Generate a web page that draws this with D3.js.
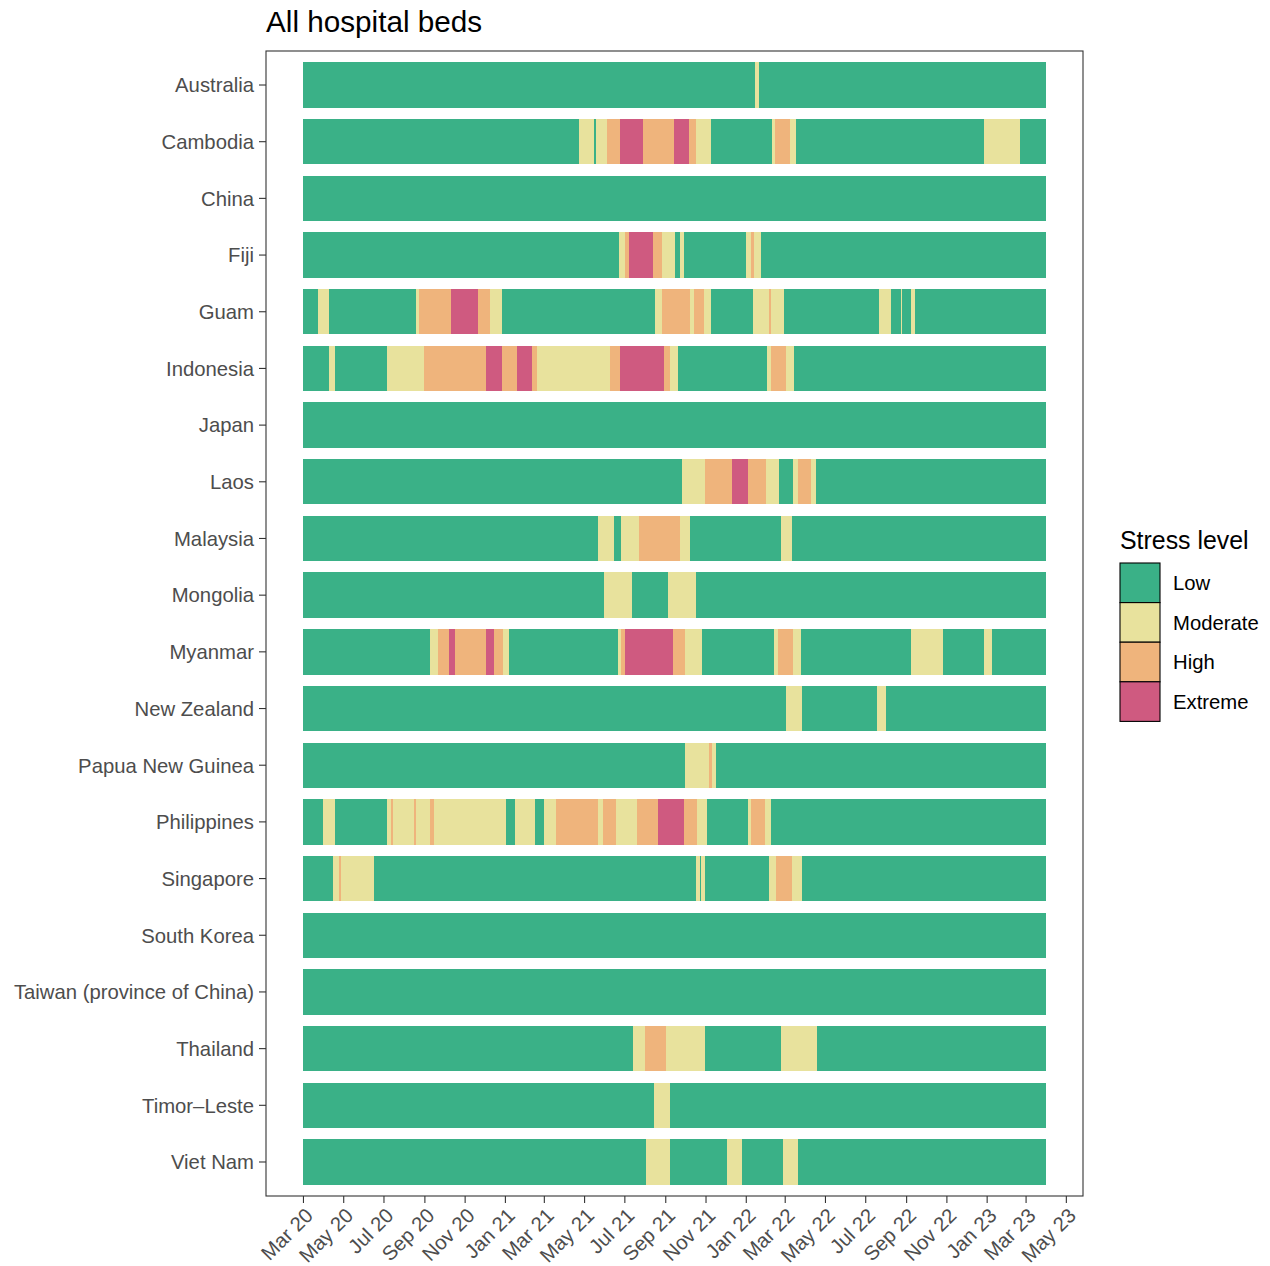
<!DOCTYPE html>
<html>
<head>
<meta charset="utf-8">
<script src="https://cdn.jsdelivr.net/npm/d3@7"></script>
<style>
  body { margin: 0; background: #fff; }
  svg { font-family: "Liberation Sans", Arial, sans-serif; }
</style>
</head>
<body>
<svg width="1270" height="1266"></svg>
<script>
// stress levels and their colours
const levels = ["Low", "Moderate", "High", "Extreme"]
const levelColors = ["#3AB187", "#E8E29D", "#EFB47C", "#CF5A80"]

// each country: [day since 2020-03-01 when the level starts, level index]
const countries = ["Australia", "Cambodia", "China", "Fiji", "Guam", "Indonesia", "Japan", "Laos",
  "Malaysia", "Mongolia", "Myanmar", "New Zealand", "Papua New Guinea", "Philippines", "Singapore",
  "South Korea", "Taiwan (province of China)", "Thailand", "Timor\u2013Leste", "Viet Nam"]

const australia = [[0,0],[685,1],[691,0]]
const cambodia = [[0,0],[419,1],[441,0],[444,1],[460,2],[480,3],[515,2],[562,3],[585,2],[595,1],[618,0],[711,1],[715,2],[738,1],[747,0],[1032,1],[1087,0]]
const china = [[0,0]]
const fiji = [[0,0],[479,1],[488,2],[494,3],[530,2],[544,1],[563,0],[571,1],[577,0],[671,1],[679,2],[683,1],[694,0]]
const guam = [[0,0],[23,1],[40,0],[172,1],[176,2],[224,3],[265,2],[284,1],[302,0],[533,1],[544,2],[586,1],[592,2],[608,1],[618,0],[682,1],[706,2],[709,1],[729,0],[873,1],[891,0],[906,1],[908,0],[921,1],[927,0]]
const indonesia = [[0,0],[40,1],[48,0],[128,1],[184,2],[277,3],[301,2],[325,3],[347,2],[354,1],[466,2],[480,3],[547,2],[556,1],[568,0],[703,1],[709,2],[732,1],[744,0]]
const japan = [[0,0]]
const laos = [[0,0],[574,1],[609,2],[650,3],[674,2],[702,1],[721,0],[742,1],[750,2],[770,1],[777,0]]
const malaysia = [[0,0],[447,1],[471,0],[482,1],[509,2],[571,1],[586,0],[724,1],[741,0]]
const mongolia = [[0,0],[456,1],[498,0],[553,1],[595,0]]
const myanmar = [[0,0],[193,1],[204,2],[222,3],[230,2],[277,3],[290,2],[303,1],[312,0],[477,1],[482,2],[488,3],[560,2],[579,1],[604,0],[714,1],[720,2],[742,1],[755,0],[921,1],[970,0],[1032,1],[1044,0]]
const newZealand = [[0,0],[732,1],[756,0],[870,1],[884,0]]
const papuaNewGuinea = [[0,0],[579,1],[615,2],[620,1],[626,0]]
const philippines = [[0,0],[30,1],[48,0],[127,1],[134,2],[136,1],[168,2],[171,1],[192,2],[199,1],[307,0],[322,1],[351,0],[366,1],[383,2],[447,1],[454,2],[474,1],[506,2],[538,3],[577,2],[597,1],[612,0],[674,1],[679,2],[700,1],[709,0]]
const singapore = [[0,0],[46,1],[54,2],[57,1],[107,0],[595,1],[601,0],[603,1],[609,0],[706,1],[717,2],[741,1],[756,0]]
const southKorea = [[0,0]]
const taiwan = [[0,0]]
const thailand = [[0,0],[500,1],[518,2],[550,1],[609,0],[724,1],[779,0]]
const timorLeste = [[0,0],[532,1],[556,0]]
const vietNam = [[0,0],[520,1],[556,0],[642,1],[665,0],[727,1],[750,0]]

const series = [australia, cambodia, china, fiji, guam, indonesia, japan, laos, malaysia, mongolia,
  myanmar, newZealand, papuaNewGuinea, philippines, singapore, southKorea, taiwan, thailand, timorLeste, vietNam]

const startDate = new Date(2020, 2, 1)
const lastDay = 1126 // data runs to 2023-04-01

const svg = d3.select("svg")

// panel box
const panelLeft = 266, panelRight = 1083, panelTop = 51, panelBottom = 1196

const day = (n) => d3.timeDay.offset(startDate, n)
const pad = Math.round(lastDay * 0.05)

const scaleX = d3.scaleTime()
  .domain([day(-pad), day(lastDay + pad)])
  .range([panelLeft, panelRight])

const scaleY = d3.scaleBand()
  .domain(countries)
  .range([panelTop, panelBottom])
  .paddingInner(0.2)
  .paddingOuter(0.2)

// turn change points into segments
const segments = []
series.forEach((s, i) => {
  s.forEach((p, j) => {
    const end = j < s.length - 1 ? s[j + 1][0] : lastDay
    segments.push({ country: countries[i], from: p[0], to: end, level: p[1] })
  })
})

svg.append("g")
  .selectAll("rect")
  .data(segments)
  .enter()
  .append("rect")
  .attr("x", d => scaleX(day(d.from)))
  .attr("width", d => scaleX(day(d.to)) - scaleX(day(d.from)))
  .attr("y", d => scaleY(d.country))
  .attr("height", scaleY.bandwidth())
  .attr("fill", d => levelColors[d.level])
  .attr("shape-rendering", "crispEdges")

// panel border
svg.append("rect")
  .attr("x", panelLeft).attr("y", panelTop)
  .attr("width", panelRight - panelLeft).attr("height", panelBottom - panelTop)
  .attr("fill", "none")
  .attr("stroke", "#333")
  .attr("stroke-width", 1.1)

const axisFont = "20.3px"

// y axis
const axisY = d3.axisLeft(scaleY).tickSizeOuter(0).tickSize(7).tickPadding(5)
const gy = svg.append("g").attr("transform", `translate(${panelLeft},0)`).call(axisY)
gy.select(".domain").remove()
gy.selectAll("line").attr("stroke", "#333").attr("stroke-width", 1.1)
gy.selectAll("text").attr("fill", "#4D4D4D").style("font-size", axisFont)
  .style("font-family", "'Liberation Sans', Arial, sans-serif")
  .attr("dy", "0.36em")

// x axis, one tick every 2 months
const tickDates = d3.timeMonth.every(2).range(new Date(2020, 2, 1), new Date(2023, 5, 1))
const axisX = d3.axisBottom(scaleX)
  .tickValues(tickDates)
  .tickFormat(d3.timeFormat("%b %y"))
  .tickSize(7)
  .tickSizeOuter(0)
const gx = svg.append("g").attr("transform", `translate(0,${panelBottom})`).call(axisX)
gx.select(".domain").remove()
gx.selectAll("line").attr("stroke", "#333").attr("stroke-width", 1.1)
gx.selectAll("text")
  .attr("fill", "#4D4D4D")
  .style("font-size", axisFont)
  .style("font-family", "'Liberation Sans', Arial, sans-serif")
  .attr("text-anchor", "end")
  .attr("y", 0).attr("dy", "0.75em")
  .attr("transform", "translate(0,10) rotate(-45)")

// title
svg.append("text")
  .attr("x", panelLeft).attr("y", 32)
  .style("font-size", "29.7px")
  .attr("fill", "#000")
  .text("All hospital beds")

// legend
const legend = svg.append("g").attr("transform", "translate(1120,0)")
legend.append("text")
  .attr("x", 0).attr("y", 549)
  .style("font-size", "24.9px")
  .text("Stress level")

legend.selectAll("rect")
  .data(levels)
  .enter()
  .append("rect")
  .attr("x", 0)
  .attr("y", (d, i) => 563 + i * 39.6)
  .attr("width", 40)
  .attr("height", 39.6)
  .attr("fill", (d, i) => levelColors[i])
  .attr("stroke", "#000")
  .attr("stroke-width", 1.1)

legend.selectAll("text.key")
  .data(levels)
  .enter()
  .append("text")
  .attr("class", "key")
  .attr("x", 53)
  .attr("y", (d, i) => 583 + i * 39.6)
  .attr("dy", "0.35em")
  .style("font-size", axisFont)
  .text(d => d)
</script>
</body>
</html>
